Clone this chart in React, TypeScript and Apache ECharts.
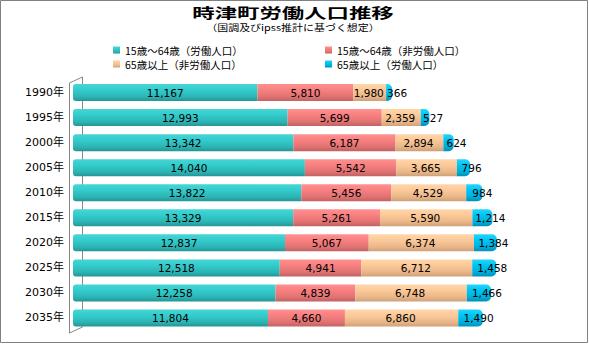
import React, { useEffect, useRef } from "react";
import * as echarts from "echarts";

const years = ["1990年", "1995年", "2000年", "2005年", "2010年", "2015年", "2020年", "2025年", "2030年", "2035年"];
const seriesNames = ["15歳～64歳（労働人口）", "15歳～64歳（非労働人口）", "65歳以上（非労働人口）", "65歳以上（労働人口）"];
const workAge = [11167, 12993, 13342, 14040, 13822, 13329, 12837, 12518, 12258, 11804];
const workAgeNonLabor = [5810, 5699, 6187, 5542, 5456, 5261, 5067, 4941, 4839, 4660];
const elderNonLabor = [1980, 2359, 2894, 3665, 4529, 5590, 6374, 6712, 6748, 6860];
const elderLabor = [366, 527, 624, 796, 984, 1214, 1384, 1458, 1466, 1490];

const baseColors = ["#33CCCC", "#FF8080", "#FFCC99", "#00CCFF"];
const gradStops = [
  ["#45D6D6", "#33CCCC", "#2DB4B4", "#239595"],
  ["#FF9090", "#F88080", "#E07272", "#C26262"],
  ["#FFD6AA", "#FCC999", "#E8B688", "#CFA078"],
  ["#22D6FF", "#00C4F2", "#00AEDB", "#0090B8"],
];

const grad = (c: string[]) => ({
  type: "linear",
  x: 0,
  y: 0,
  x2: 0,
  y2: 1,
  colorStops: [
    { offset: 0, color: c[0] },
    { offset: 0.35, color: c[1] },
    { offset: 0.75, color: c[2] },
    { offset: 1, color: c[3] },
  ],
});

export default function App() {
  const ref = useRef<HTMLDivElement>(null);
  useEffect(() => {
    if (!ref.current) return;
    const chart = echarts.init(ref.current, null, { renderer: "svg" });
    const datas = [workAge, workAgeNonLabor, elderNonLabor, elderLabor];
    const radii = [
      [3, 0, 0, 3],
      [0, 0, 0, 0],
      [0, 0, 0, 0],
      [0, 5, 5, 0],
    ];
    const labelShift = [0, 0, -1, 8];
    const legendText = {
      fontFamily: "'Noto Sans CJK JP', sans-serif",
      fontSize: 10.5,
      color: "#000",
      lineHeight: 12,
    };
    chart.setOption({
      animation: false,
      backgroundColor: "#fff",
      textStyle: { fontFamily: "'DejaVu Sans', 'Noto Sans CJK JP', sans-serif" },
      graphic: [
        {
          type: "rect",
          shape: { x: 0.5, y: 0.5, width: 587, height: 342 },
          style: { fill: "none", stroke: "#808080", lineWidth: 1 },
          z: -10,
        },
        {
          type: "text",
          x: 293,
          y: 12,
          scaleX: 1.6,
          style: {
            text: "時津町労働人口推移",
            x: 0,
            y: 0,
            align: "center",
            verticalAlign: "middle",
            font: "bold 14px 'Noto Sans CJK JP', sans-serif",
            fill: "#000",
          },
        },
        {
          type: "text",
          x: 293,
          y: 26.5,
          scaleX: 1.22,
          style: {
            text: "（国調及びipss推計に基づく想定）",
            x: 0,
            y: 0,
            align: "center",
            verticalAlign: "middle",
            font: "9px 'Noto Sans CJK JP', sans-serif",
            fill: "#000",
          },
        },
        { type: "line", shape: { x1: 69.5, y1: 83, x2: 69.5, y2: 333 }, style: { stroke: "#888", lineWidth: 1 }, z: -5 },
        { type: "line", shape: { x1: 82.5, y1: 77, x2: 82.5, y2: 327 }, style: { stroke: "#888", lineWidth: 1 }, z: -5 },
        { type: "line", shape: { x1: 69.5, y1: 83, x2: 82.5, y2: 77 }, style: { stroke: "#888", lineWidth: 1 }, z: -5 },
        { type: "line", shape: { x1: 69.5, y1: 333, x2: 82.5, y2: 327 }, style: { stroke: "#888", lineWidth: 1 }, z: -5 },
      ],
      legend: [
        {
          data: [seriesNames[0], seriesNames[2]],
          orient: "vertical",
          left: 113,
          top: 44,
          padding: 0,
          itemWidth: 7,
          itemHeight: 7,
          itemGap: 2,
          icon: "rect",
          textStyle: legendText,
        },
        {
          data: [seriesNames[1], seriesNames[3]],
          orient: "vertical",
          left: 325,
          top: 44,
          padding: 0,
          itemWidth: 7,
          itemHeight: 7,
          itemGap: 2,
          icon: "rect",
          textStyle: legendText,
        },
      ],
      grid: { left: 73, right: 20.5, top: 80, bottom: 13.5, containLabel: false },
      xAxis: {
        type: "value",
        min: 0,
        max: 30000,
        show: false,
      },
      yAxis: {
        type: "category",
        data: years,
        inverse: true,
        axisLine: { show: false },
        axisTick: { show: false },
        axisLabel: {
          margin: 9,
          fontSize: 11,
          color: "#000",
          fontFamily: "'DejaVu Sans', 'Noto Sans CJK JP', sans-serif",
        },
      },
      series: datas.map((d, i) => ({
        name: seriesNames[i],
        type: "bar",
        stack: "total",
        data: d,
        barWidth: 17,
        color: baseColors[i],
        itemStyle: { color: grad(gradStops[i]), borderRadius: radii[i] },
        label: {
          show: true,
          position: "inside",
          color: "#000",
          fontSize: 10.5,
          fontFamily: "'DejaVu Sans', sans-serif",
          formatter: (p: any) => Number(p.value).toLocaleString("en-US"),
        },
        labelLayout: { dx: labelShift[i], hideOverlap: false },
        emphasis: { disabled: true },
      })),
    });
    return () => chart.dispose();
  }, []);
  return (
    <div
      ref={ref}
      style={{ position: "fixed", left: 0, top: 0, width: 589, height: 344 }}
    />
  );
}
